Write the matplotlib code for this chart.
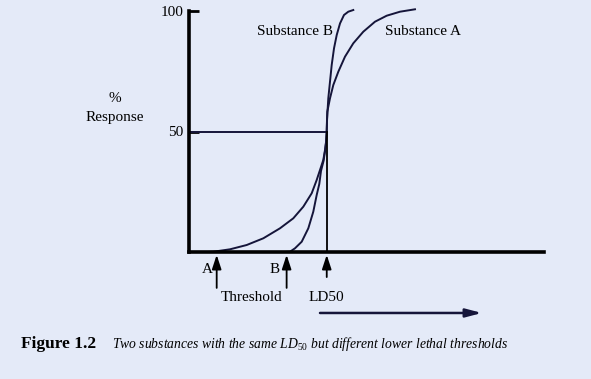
import numpy as np
import matplotlib
matplotlib.use("Agg")
import matplotlib.pyplot as plt

plt.rcParams['font.family'] = ['Liberation Serif', 'DejaVu Serif']
plt.rcParams['mathtext.fontset'] = 'custom'
plt.rcParams['mathtext.rm'] = 'Liberation Serif'
plt.rcParams['mathtext.it'] = 'Liberation Serif:italic'

# dose (arbitrary units) vs % response
dose_a = [5.35, 6.85, 11.55, 16.25, 20.93, 25.63, 29.38, 32.20, 34.56, 35.97, 36.90,
          37.83, 38.31, 38.59, 38.79, 38.96, 39.72, 40.65, 42.06, 43.94, 46.28,
          49.10, 52.39, 55.69, 59.44, 63.66]
resp_a = [0.0, 0.12, 1.12, 2.90, 5.68, 9.83, 13.98, 18.80, 24.36, 29.88, 34.02,
          38.17, 42.32, 45.23, 50.0, 58.22, 63.78, 69.29, 74.81, 81.04, 86.60,
          91.41, 95.56, 98.05, 99.71, 100.71]

dose_b = [26.76, 28.45, 29.86, 31.75, 33.61, 35.01, 35.97, 36.70, 37.18, 37.90,
          38.33, 38.62, 38.79, 38.87, 39.24, 39.72, 40.20, 40.85, 41.61, 42.54,
          43.66, 44.87, 46.28]
resp_b = [0.0, 0.12, 1.54, 4.27, 9.83, 16.72, 23.65, 28.22, 33.61, 37.76,
          41.91, 46.06, 50.0, 54.77, 63.78, 70.71, 77.64, 84.52, 90.04, 94.85,
          98.34, 99.71, 100.41]

ld50 = 38.8
threshold_a = 7.8
threshold_b = 27.5
ytick_vals = [50, 100]
ytick_labels = ['50', '100']

bg = '#e4eaf8'
ink = '#15153a'

fig = plt.figure(figsize=(5.91, 3.79), dpi=100, facecolor=bg)
ax = fig.add_axes([189/591, (379-252)/379, 355/591, 241/379])
ax.set_facecolor(bg)
ax.set_xlim(0, 100)
ax.set_ylim(0, 100)

for s in ['top', 'right']:
    ax.spines[s].set_visible(False)
for s in ['left', 'bottom']:
    ax.spines[s].set_linewidth(2.6)
    ax.spines[s].set_color('black')
    ax.spines[s].set_capstyle('projecting')

ax.set_xticks([])
ax.set_yticks(ytick_vals)
ax.set_yticklabels(ytick_labels, fontsize=11)
ax.tick_params(axis='y', direction='in', length=7, width=2, pad=4)

# curves
ax.plot(dose_a, resp_a, color=ink, lw=1.4, clip_on=False, solid_joinstyle='round')
ax.plot(dose_b, resp_b, color=ink, lw=1.4, clip_on=False, solid_joinstyle='round')

# LD50 guide lines
ax.plot([0, ld50], [50, 50], color=ink, lw=1.4)
ax.plot([ld50, ld50], [0, 50], color='black', lw=1.3)

ax.text(29.9, 91.3, 'Substance B', ha='center', va='center', fontsize=11)
ax.text(65.9, 91.3, 'Substance A', ha='center', va='center', fontsize=11)
ax.text(-20.8, 63.9, '%', ha='center', va='center', fontsize=11, clip_on=False)
ax.text(-21.0, 56.0, 'Response', ha='center', va='center', fontsize=11, clip_on=False)

# arrows below the axis
arrow_kw = dict(arrowstyle='-|>,head_length=0.85,head_width=0.28', color='black', lw=1.3,
                shrinkA=0, shrinkB=0)
for xv, ytail in [(threshold_a, -14.9), (threshold_b, -14.9), (ld50, -10.4)]:
    ax.annotate('', xy=(xv, -1.2), xytext=(xv, ytail), arrowprops=arrow_kw,
                annotation_clip=False)

ax.text(5.1, -7.1, 'A', ha='center', va='center', fontsize=11, clip_on=False)
ax.text(24.2, -7.1, 'B', ha='center', va='center', fontsize=11, clip_on=False)
ax.text(17.5, -18.7, 'Threshold', ha='center', va='center', fontsize=11, clip_on=False)
ax.text(38.6, -18.7, 'LD50', ha='center', va='center', fontsize=11, clip_on=False)

ax.annotate('', xy=(82.5, -25.3), xytext=(36.9, -25.3),
            arrowprops=dict(arrowstyle='-|>,head_length=0.95,head_width=0.25', color=ink,
                            lw=1.8, shrinkA=0, shrinkB=0),
            annotation_clip=False)

# caption
fig.text(21/591, 1 - 344/379, 'Figure 1.2', fontsize=12.5, fontweight='bold',
         ha='left', va='center')
fig.text(112/591, 1 - 344/379,
         r'Two substances with the same LD$_{50}$ but different lower lethal thresholds',
         fontsize=9.8, style='italic', ha='left', va='center')

fig.savefig('out.png', dpi=100, facecolor=bg)
